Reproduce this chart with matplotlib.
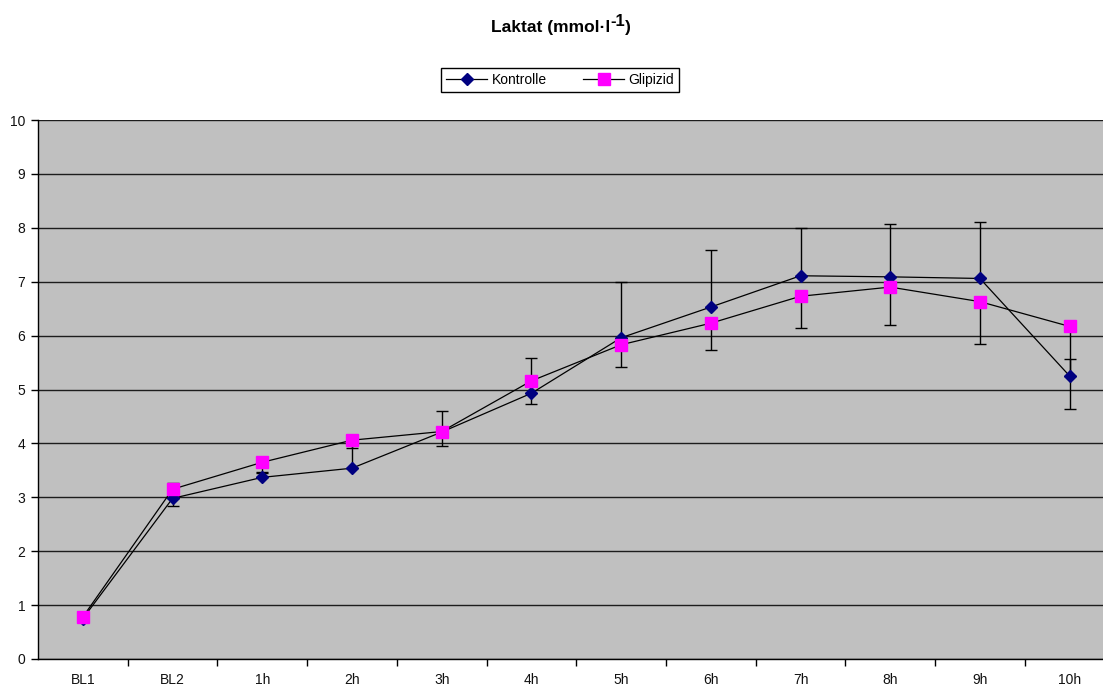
import matplotlib
matplotlib.use("Agg")
import matplotlib.pyplot as plt
from matplotlib.ticker import FixedLocator, NullFormatter

plt.rcParams['font.family'] = ['Liberation Sans', 'DejaVu Sans']

# Messzeitpunkte
categories = ["BL1", "BL2", "1h", "2h", "3h", "4h", "5h", "6h", "7h", "8h", "9h", "10h"]

# Laktat-Mittelwerte (mmol/l)
kontrolle = [0.75, 2.98, 3.37, 3.54, 4.21, 4.93, 5.96, 6.53, 7.11, 7.09, 7.06, 5.25]
glipizid = [0.78, 3.15, 3.65, 4.06, 4.22, 5.16, 5.83, 6.23, 6.73, 6.90, 6.63, 6.17]

# Standardabweichungen: Kontrolle nach oben, Glipizid nach unten
kontrolle_sd_plus = [0.0, 0.29, 0.10, 0.44, 0.39, 0.66, 1.04, 1.05, 0.89, 0.98, 1.05, 0.32]
glipizid_sd_minus = [0.0, 0.32, 0.20, 0.15, 0.27, 0.43, 0.41, 0.50, 0.58, 0.70, 0.79, 1.53]

y_ticks = list(range(0, 11))

W, H = 1103, 689
fig = plt.figure(figsize=(W / 100, H / 100), dpi=100)
fig.patch.set_facecolor('white')
ax = fig.add_axes([38 / W, 30 / H, 1076.5 / W, 539 / H])
ax.set_facecolor('#C0C0C0')

x = list(range(len(categories)))

# Fehlerbalken unter den Markern
ax.errorbar(x, kontrolle, yerr=[[0] * len(x), kontrolle_sd_plus], fmt='none',
            ecolor='black', elinewidth=1.0, capsize=4, capthick=1.0, zorder=2)
ax.errorbar(x, glipizid, yerr=[glipizid_sd_minus, [0] * len(x)], fmt='none',
            ecolor='black', elinewidth=1.0, capsize=4, capthick=1.0, zorder=2)

ax.plot(x, kontrolle, color='black', linewidth=0.9, marker='D', markersize=6.5,
        markerfacecolor='#000080', markeredgecolor='#000080', label='Kontrolle', zorder=3)
ax.plot(x, glipizid, color='black', linewidth=0.9, marker='s', markersize=8,
        markerfacecolor='#FF00FF', markeredgecolor='#FF00FF', label='Glipizid', zorder=4)

ax.set_xlim(-0.5, len(categories) - 0.5)
ax.set_ylim(0, 10)
ax.set_yticks(y_ticks)
ax.yaxis.grid(True, color='black', linewidth=1.0, alpha=0.85)
ax.set_axisbelow(True)

ax.set_xticks(x)
ax.set_xticklabels(categories)
ax.xaxis.set_minor_locator(FixedLocator([i + 0.5 for i in x]))
ax.xaxis.set_minor_formatter(NullFormatter())
ax.tick_params(axis='x', which='major', length=0, pad=10, labelsize=10, labelcolor='#111111')
ax.tick_params(axis='x', which='minor', length=5, width=1, direction='out', color='black')
ax.tick_params(axis='y', length=5, width=1, direction='out', pad=4, labelsize=10, labelcolor='#111111')

for side in ['top', 'right']:
    ax.spines[side].set_visible(False)
for side in ['left', 'bottom']:
    ax.spines[side].set_color('black')
    ax.spines[side].set_linewidth(1.0)

# Titel mit hochgestelltem Exponenten, aus drei Teilen zusammengesetzt
renderer = fig.canvas.get_renderer()
title_y = 1 - 32 / H
main = fig.text(0, title_y, "Laktat (mmol·l", fontsize=12.5, fontweight='bold',
                ha='left', va='baseline')
sup = fig.text(0, title_y + 6 / H, "-1", fontsize=12, fontweight='bold',
               ha='left', va='baseline')
close = fig.text(0, title_y, ")", fontsize=12.5, fontweight='bold',
                 ha='left', va='baseline')
w_main = main.get_window_extent(renderer).width / W
w_sup = sup.get_window_extent(renderer).width / W
w_close = close.get_window_extent(renderer).width / W
x0 = 561 / W - (w_main + w_sup + w_close) / 2
main.set_x(x0)
sup.set_x(x0 + w_main)
close.set_x(x0 + w_main + w_sup)

leg = fig.legend(loc='center', bbox_to_anchor=(560 / W, 1 - 80 / H), ncol=2,
                 frameon=True, fancybox=False, edgecolor='black', framealpha=1,
                 fontsize=10, handlelength=3.0, columnspacing=2.6, borderpad=0.35,
                 handletextpad=0.3)
leg.get_frame().set_linewidth(1.0)

fig.savefig('out.png', dpi=100)
